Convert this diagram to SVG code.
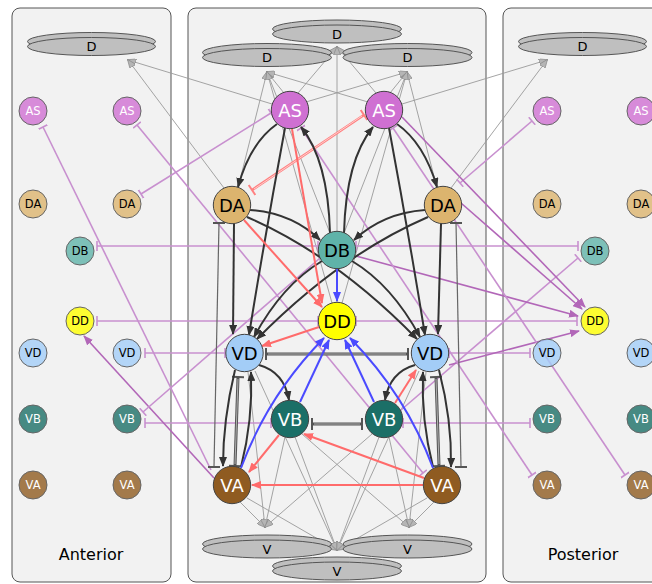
<svg xmlns="http://www.w3.org/2000/svg" width="652" height="584" viewBox="0 0 652 584">
<defs>
<style>
.panel{fill:#f2f2f2;stroke:#555;stroke-width:1}
.mus{fill:#bfbfbf;stroke:#555;stroke-width:1}
.t{font-family:"DejaVu Sans","Liberation Sans",sans-serif;text-anchor:middle}
.mt{font-size:13px;fill:#000}
.nl{font-size:18px}
.ns{font-size:11.5px}
.lab{font-size:16px;fill:#000}
.w{fill:#fff}
.k{fill:#000}
.main{stroke:#444;stroke-width:1}
.side{stroke:#666;stroke-width:1;fill-opacity:0.8}
.g{stroke:#9a9a9a;stroke-width:0.9;fill:none;marker-end:url(#aG)}
.ex{stroke:#333;stroke-width:2;fill:none;marker-end:url(#aK)}
.rd{stroke:#ff6b6b;stroke-width:2;fill:none;marker-end:url(#aR)}
.bl{stroke:#4a4aff;stroke-width:2;fill:none;marker-end:url(#aB)}
.gj{stroke:#555;stroke-width:3;fill:none;marker-start:url(#tK);marker-end:url(#tK)}
.gji{stroke:#b0b0b0;stroke-width:1;fill:none}
.gt{stroke:#666;stroke-width:1.2;fill:none;marker-start:url(#tK);marker-end:url(#tK)}
.rj{stroke:#ff8080;stroke-width:2.6;fill:none;marker-start:url(#tR);marker-end:url(#tR)}
.rji{stroke:#ffd6d6;stroke-width:0.9;fill:none}
.pt{stroke:#c890cf;stroke-width:1.6;fill:none;marker-start:url(#tP);marker-end:url(#tP)}
.pe{stroke:#c890cf;stroke-width:1.6;fill:none;marker-end:url(#tP)}
.pa{stroke:#b267b8;stroke-width:1.6;fill:none;marker-end:url(#aP)}
</style>
<marker id="aK" viewBox="0 0 10 8" refX="9" refY="4" markerWidth="10" markerHeight="8" markerUnits="userSpaceOnUse" orient="auto"><path d="M0,0 L10,4 L0,8 z" fill="#333"/></marker>
<marker id="aR" viewBox="0 0 10 8" refX="9" refY="4" markerWidth="10" markerHeight="8" markerUnits="userSpaceOnUse" orient="auto"><path d="M0,0 L10,4 L0,8 z" fill="#ff6b6b"/></marker>
<marker id="aB" viewBox="0 0 10 8" refX="9" refY="4" markerWidth="10" markerHeight="8" markerUnits="userSpaceOnUse" orient="auto"><path d="M0,0 L10,4 L0,8 z" fill="#4a4aff"/></marker>
<marker id="aP" viewBox="0 0 10 8" refX="9" refY="4" markerWidth="10" markerHeight="8" markerUnits="userSpaceOnUse" orient="auto"><path d="M0,0 L10,4 L0,8 z" fill="#b267b8"/></marker>
<marker id="aG" viewBox="0 0 10 8" refX="9" refY="4" markerWidth="9" markerHeight="7" markerUnits="userSpaceOnUse" orient="auto"><path d="M0,0 L10,4 L0,8 z" fill="#b5b5b5" stroke="#8a8a8a" stroke-width="0.8"/></marker>
<marker id="tK" viewBox="0 0 4 12" refX="2" refY="6" markerWidth="4" markerHeight="12" markerUnits="userSpaceOnUse" orient="auto"><path d="M2,0 V12" stroke="#555" stroke-width="2"/></marker>
<marker id="tR" viewBox="0 0 4 12" refX="2" refY="6" markerWidth="4" markerHeight="12" markerUnits="userSpaceOnUse" orient="auto"><path d="M2,0 V12" stroke="#ff8080" stroke-width="2"/></marker>
<marker id="tP" viewBox="0 0 4 10" refX="2" refY="5" markerWidth="4" markerHeight="10" markerUnits="userSpaceOnUse" orient="auto"><path d="M2,0 V10" stroke="#c890cf" stroke-width="1.6"/></marker>
</defs>

<g id="panels">
<rect class="panel" x="12" y="8" width="159" height="574" rx="8"/>
<rect class="panel" x="188" y="8" width="298" height="574" rx="8"/>
<rect class="panel" x="503" y="8" width="160" height="574" rx="8"/>
<text class="t lab" x="91" y="560">Anterior</text>
<text class="t lab" x="583" y="560">Posterior</text>
</g>

<g id="connectors">
<!-- gray to dorsal muscles -->
<path class="g" d="M272,104 L128,60"/>
<path class="g" d="M224,188 L128,60"/>
<path class="g" d="M402,104 L547,60"/>
<path class="g" d="M451,188 L547,60"/>
<path class="g" d="M284,93 L267,72"/>
<path class="g" d="M238,188 L267,72"/>
<path class="g" d="M330,233 L267,72"/>
<path class="g" d="M368,102 L267,72"/>
<path class="g" d="M332,303 L267,72"/>
<path class="g" d="M298,93 L337,47"/>
<path class="g" d="M376,93 L337,47"/>
<path class="g" d="M337,302 L337,47"/>
<path class="g" d="M390,93 L407,72"/>
<path class="g" d="M437,188 L407,72"/>
<path class="g" d="M344,233 L407,72"/>
<path class="g" d="M306,102 L407,72"/>
<path class="g" d="M342,303 L407,72"/>
<!-- gray to ventral muscles -->
<path class="g" d="M240,502 L265,527"/>
<path class="g" d="M285,437 L265,527"/>
<path class="g" d="M248,372 L265,527"/>
<path class="g" d="M372,434 L265,527"/>
<path class="g" d="M247,498 L337,550"/>
<path class="g" d="M295,437 L337,550"/>
<path class="g" d="M379,437 L337,550"/>
<path class="g" d="M427,498 L337,550"/>
<path class="g" d="M255,371 L337,550"/>
<path class="g" d="M419,371 L337,550"/>
<path class="g" d="M434,502 L409,527"/>
<path class="g" d="M389,437 L409,527"/>
<path class="g" d="M426,372 L409,527"/>
<path class="g" d="M302,434 L409,527"/>

<!-- purple inter-unit -->
<path class="pe" d="M211,470 L43,127"/>
<path class="pt" d="M423,473 L137,125"/>
<path class="pt" d="M271,113 L141,194"/>
<path class="pt" d="M318,246 L97,246"/>
<path class="pt" d="M356,246 L578,246"/>
<path class="pt" d="M318,321 L97,321"/>
<path class="pt" d="M356,321 L577,321"/>
<path class="pt" d="M225,353 L145,353"/>
<path class="pt" d="M449,353 L530,353"/>
<path class="pt" d="M271,423 L145,423"/>
<path class="pt" d="M403,423 L530,423"/>
<path class="pa" d="M214,478 L84,336"/>
<path class="pe" d="M320,258 L143,412"/>
<path class="pt" d="M460,183 L532,121"/>
<path class="pe" d="M401,410 L578,258"/>
<path class="pa" d="M402,117 L585,307"/>
<path class="pa" d="M461,203 L582,309"/>
<path class="pa" d="M356,256 L578,316"/>
<path class="pa" d="M449,365 L579,331"/>
<path class="pt" d="M393,128 L625,475"/>
<path class="pt" d="M301,128 L532,475"/>

<!-- gap junctions -->
<path class="gj" d="M266,354 L408,354"/><path class="gji" d="M268,354 L406,354"/>
<path class="gj" d="M312,424 L362,424"/><path class="gji" d="M314,424 L360,424"/>
<path class="gj" d="M238,377 L235,466"/><path class="gji" d="M238,379 L235,464"/>
<path class="gj" d="M436,377 L439,466"/><path class="gji" d="M436,379 L439,464"/>
<path class="gt" d="M219,223 L214,467"/>
<path class="gt" d="M456,223 L461,467"/>
<path class="rj" d="M364,115 L252,190"/><path class="rji" d="M362,116 L254,189"/>

<!-- excitatory black -->
<path class="ex" d="M277,124 Q250,143 238,187"/>
<path class="ex" d="M285,128 Q266,230 249,335"/>
<path class="ex" d="M330,233 Q328,160 301,127"/>
<path class="ex" d="M344,233 Q346,160 373,127"/>
<path class="ex" d="M397,124 Q424,143 437,187"/>
<path class="ex" d="M389,128 Q408,230 425,335"/>
<path class="ex" d="M250,210 Q292,213 320,240"/>
<path class="ex" d="M425,210 Q383,213 354,240"/>
<path class="ex" d="M247,217 Q335,255 417,339"/>
<path class="ex" d="M428,217 Q340,255 257,339"/>
<path class="ex" d="M234,224 L233,334"/>
<path class="ex" d="M441,224 L438,334"/>
<path class="ex" d="M322,261 Q282,285 254,337"/>
<path class="ex" d="M352,261 Q392,285 420,337"/>
<path class="ex" d="M259,365 Q284,372 289,400"/>
<path class="ex" d="M415,365 Q390,372 385,400"/>
<path class="ex" d="M235,370 Q223,420 223,466"/>
<path class="ex" d="M241,467 Q253,420 251,372"/>
<path class="ex" d="M433,467 Q421,420 423,372"/>
<path class="ex" d="M439,370 Q452,420 451,467"/>

<!-- red -->
<path class="rd" d="M292,129 L322,303"/>
<path class="rd" d="M244,220 L322,307"/>
<path class="rd" d="M319,327 L262,346"/>
<path class="rd" d="M395,403 L416,370"/>
<path class="rd" d="M279,435 L249,472"/>
<path class="rd" d="M424,478 L304,434"/>
<path class="rd" d="M423,485 L252,485"/>

<!-- blue -->
<path class="bl" d="M337,269 L337,301"/>
<path class="bl" d="M241,468 Q268,395 324,338"/>
<path class="bl" d="M300,402 L329,340"/>
<path class="bl" d="M374,402 L345,340"/>
<path class="bl" d="M433,468 Q406,395 350,338"/>
</g>

<!-- muscles -->
<g id="D_left_panel"><ellipse class="mus" cx="91.5" cy="41.5" rx="64" ry="9"/><ellipse class="mus" cx="91.5" cy="46.5" rx="64" ry="9"/><text class="t mt" x="91.5" y="51">D</text></g>
<g id="D_top"><ellipse class="mus" cx="337" cy="29" rx="64.5" ry="9"/><ellipse class="mus" cx="337" cy="34" rx="64.5" ry="9"/><text class="t mt" x="337" y="38.5">D</text></g>
<g id="D_left"><ellipse class="mus" cx="267" cy="52.5" rx="64.5" ry="9"/><ellipse class="mus" cx="267" cy="57.5" rx="64.5" ry="9"/><text class="t mt" x="267" y="62">D</text></g>
<g id="D_right"><ellipse class="mus" cx="407.5" cy="52.5" rx="64.5" ry="9"/><ellipse class="mus" cx="407.5" cy="57.5" rx="64.5" ry="9"/><text class="t mt" x="407.5" y="62">D</text></g>
<g id="D_right_panel"><ellipse class="mus" cx="582.5" cy="41.5" rx="64" ry="9"/><ellipse class="mus" cx="582.5" cy="46.5" rx="64" ry="9"/><text class="t mt" x="582.5" y="51">D</text></g>
<g id="V_left"><ellipse class="mus" cx="267" cy="544" rx="64.5" ry="9"/><ellipse class="mus" cx="267" cy="549" rx="64.5" ry="9"/><text class="t mt" x="267" y="553.5">V</text></g>
<g id="V_right"><ellipse class="mus" cx="407.5" cy="544" rx="64.5" ry="9"/><ellipse class="mus" cx="407.5" cy="549" rx="64.5" ry="9"/><text class="t mt" x="407.5" y="553.5">V</text></g>
<g id="V_bottom"><ellipse class="mus" cx="337" cy="566" rx="64.5" ry="9"/><ellipse class="mus" cx="337" cy="571" rx="64.5" ry="9"/><text class="t mt" x="337" y="575.5">V</text></g>

<!-- main nodes -->
<g id="AS_L"><circle class="main" cx="290" cy="110" r="18.7" fill="#cf70d2"/><text class="t nl w" x="290" y="116.5">AS</text></g>
<g id="AS_R"><circle class="main" cx="384" cy="110" r="18.7" fill="#cf70d2"/><text class="t nl w" x="384" y="116.5">AS</text></g>
<g id="DA_L"><circle class="main" cx="232" cy="205" r="18.7" fill="#dcb46e"/><text class="t nl k" x="232" y="211.5">DA</text></g>
<g id="DA_R"><circle class="main" cx="443" cy="205" r="18.7" fill="#dcb46e"/><text class="t nl k" x="443" y="211.5">DA</text></g>
<g id="DB"><circle class="main" cx="337" cy="250" r="18.7" fill="#5fb3a9"/><text class="t nl k" x="337" y="256.5">DB</text></g>
<g id="DD"><circle class="main" cx="337" cy="321" r="18.7" fill="#ffff00"/><text class="t nl k" x="337" y="327.5">DD</text></g>
<g id="VD_L"><circle class="main" cx="244.5" cy="353" r="18.7" fill="#a3cdf7"/><text class="t nl k" x="244.5" y="359.5">VD</text></g>
<g id="VD_R"><circle class="main" cx="430" cy="353" r="18.7" fill="#a3cdf7"/><text class="t nl k" x="430" y="359.5">VD</text></g>
<g id="VB_L"><circle class="main" cx="290" cy="419" r="18.7" fill="#1b6f67"/><text class="t nl w" x="290" y="425.5">VB</text></g>
<g id="VB_R"><circle class="main" cx="384" cy="419" r="18.7" fill="#1b6f67"/><text class="t nl w" x="384" y="425.5">VB</text></g>
<g id="VA_L"><circle class="main" cx="232" cy="485" r="18.7" fill="#8f5b21"/><text class="t nl w" x="232" y="491.5">VA</text></g>
<g id="VA_R"><circle class="main" cx="442" cy="485" r="18.7" fill="#8f5b21"/><text class="t nl w" x="442" y="491.5">VA</text></g>

<!-- anterior neighbour nodes -->
<g id="A_AS1"><circle class="side" cx="33" cy="111" r="14" fill="#cf70d2"/><text class="t ns w" x="33" y="115">AS</text></g>
<g id="A_AS2"><circle class="side" cx="127" cy="111" r="14" fill="#cf70d2"/><text class="t ns w" x="127" y="115">AS</text></g>
<g id="A_DA1"><circle class="side" cx="33" cy="204" r="14" fill="#dcb46e"/><text class="t ns k" x="33" y="208">DA</text></g>
<g id="A_DA2"><circle class="side" cx="127" cy="204" r="14" fill="#dcb46e"/><text class="t ns k" x="127" y="208">DA</text></g>
<g id="A_DB"><circle class="side" cx="80" cy="251" r="14" fill="#5fb3a9"/><text class="t ns k" x="80" y="255">DB</text></g>
<g id="A_DD"><circle class="side" cx="80" cy="321" r="14" fill="#ffff00"/><text class="t ns k" x="80" y="325">DD</text></g>
<g id="A_VD1"><circle class="side" cx="33" cy="353" r="14" fill="#a3cdf7"/><text class="t ns k" x="33" y="357">VD</text></g>
<g id="A_VD2"><circle class="side" cx="127" cy="353" r="14" fill="#a3cdf7"/><text class="t ns k" x="127" y="357">VD</text></g>
<g id="A_VB1"><circle class="side" cx="33" cy="419" r="14" fill="#1b6f67"/><text class="t ns w" x="33" y="423">VB</text></g>
<g id="A_VB2"><circle class="side" cx="127" cy="419" r="14" fill="#1b6f67"/><text class="t ns w" x="127" y="423">VB</text></g>
<g id="A_VA1"><circle class="side" cx="33" cy="485" r="14" fill="#8f5b21"/><text class="t ns w" x="33" y="489">VA</text></g>
<g id="A_VA2"><circle class="side" cx="127" cy="485" r="14" fill="#8f5b21"/><text class="t ns w" x="127" y="489">VA</text></g>

<!-- posterior neighbour nodes -->
<g id="P_AS1"><circle class="side" cx="547" cy="111" r="14" fill="#cf70d2"/><text class="t ns w" x="547" y="115">AS</text></g>
<g id="P_AS2"><circle class="side" cx="641" cy="111" r="14" fill="#cf70d2"/><text class="t ns w" x="641" y="115">AS</text></g>
<g id="P_DA1"><circle class="side" cx="547" cy="204" r="14" fill="#dcb46e"/><text class="t ns k" x="547" y="208">DA</text></g>
<g id="P_DA2"><circle class="side" cx="641" cy="204" r="14" fill="#dcb46e"/><text class="t ns k" x="641" y="208">DA</text></g>
<g id="P_DB"><circle class="side" cx="595" cy="251" r="14" fill="#5fb3a9"/><text class="t ns k" x="595" y="255">DB</text></g>
<g id="P_DD"><circle class="side" cx="595" cy="321" r="14" fill="#ffff00"/><text class="t ns k" x="595" y="325">DD</text></g>
<g id="P_VD1"><circle class="side" cx="547" cy="353" r="14" fill="#a3cdf7"/><text class="t ns k" x="547" y="357">VD</text></g>
<g id="P_VD2"><circle class="side" cx="641" cy="353" r="14" fill="#a3cdf7"/><text class="t ns k" x="641" y="357">VD</text></g>
<g id="P_VB1"><circle class="side" cx="547" cy="419" r="14" fill="#1b6f67"/><text class="t ns w" x="547" y="423">VB</text></g>
<g id="P_VB2"><circle class="side" cx="641" cy="419" r="14" fill="#1b6f67"/><text class="t ns w" x="641" y="423">VB</text></g>
<g id="P_VA1"><circle class="side" cx="547" cy="485" r="14" fill="#8f5b21"/><text class="t ns w" x="547" y="489">VA</text></g>
<g id="P_VA2"><circle class="side" cx="641" cy="485" r="14" fill="#8f5b21"/><text class="t ns w" x="641" y="489">VA</text></g>
</svg>
